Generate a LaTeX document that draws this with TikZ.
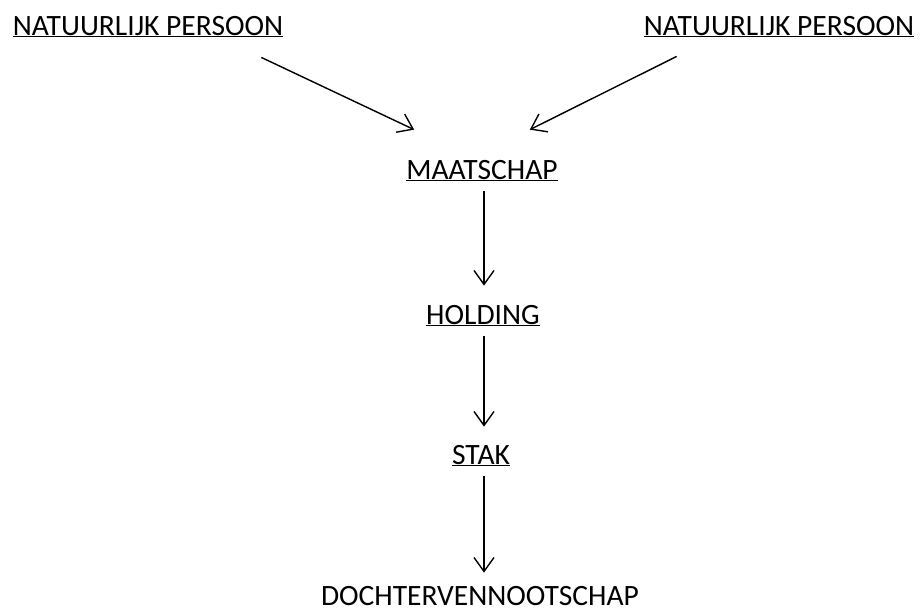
\documentclass[tikz,border=0pt]{standalone}
\usepackage{fontspec}
\setmainfont{Carlito}
\usepackage{tikz}
\usetikzlibrary{positioning,arrows.meta}
\tikzset{
  flowarrow/.style={-{Straight Barb[length=14pt,width=20pt,line width=1.4pt]}, line width=1.4pt},
  entity/.style={inner sep=0pt, anchor=base, font=\fontsize{29.5}{34}\selectfont}
}

\begin{document}
\begin{tikzpicture}[x=1pt, y=-1pt]
      \useasboundingbox (0,0) rectangle (922,611);
      \node[entity] (np1) at (148,35) {\underline{NATUURLIJK PERSOON}};
      \node[entity] (np2) at (779,35) {\underline{NATUURLIJK PERSOON}};
      \node[entity] (maat) at (482,179) {\underline{MAATSCHAP}};
      \node[entity] (hold) at (483,324) {\underline{HOLDING}};
      \node[entity] (stak) at (481,464) {\underline{STAK}};
      \node[entity] (dochter) at (480,605) {DOCHTERVENNOOTSCHAP};
      \draw[flowarrow] ([xshift=-22pt,yshift=-20pt]np1.south east) -- ([xshift=8pt,yshift=30pt]maat.north west);
      \draw[flowarrow] ([xshift=33pt,yshift=-19pt]np2.south west) -- ([xshift=-28pt,yshift=30pt]maat.north east);
      \draw[flowarrow, shorten <=10pt, shorten >=19pt] (maat.south -| 484,0) -- (hold.north -| 484,0);
      \draw[flowarrow, shorten <=10pt, shorten >=18pt] (hold.south -| 484,0) -- (stak.north -| 484,0);
      \draw[flowarrow, shorten <=10pt, shorten >=13pt] (stak.south -| 484,0) -- (dochter.north -| 484,0);
    \end{tikzpicture}
\end{document}
